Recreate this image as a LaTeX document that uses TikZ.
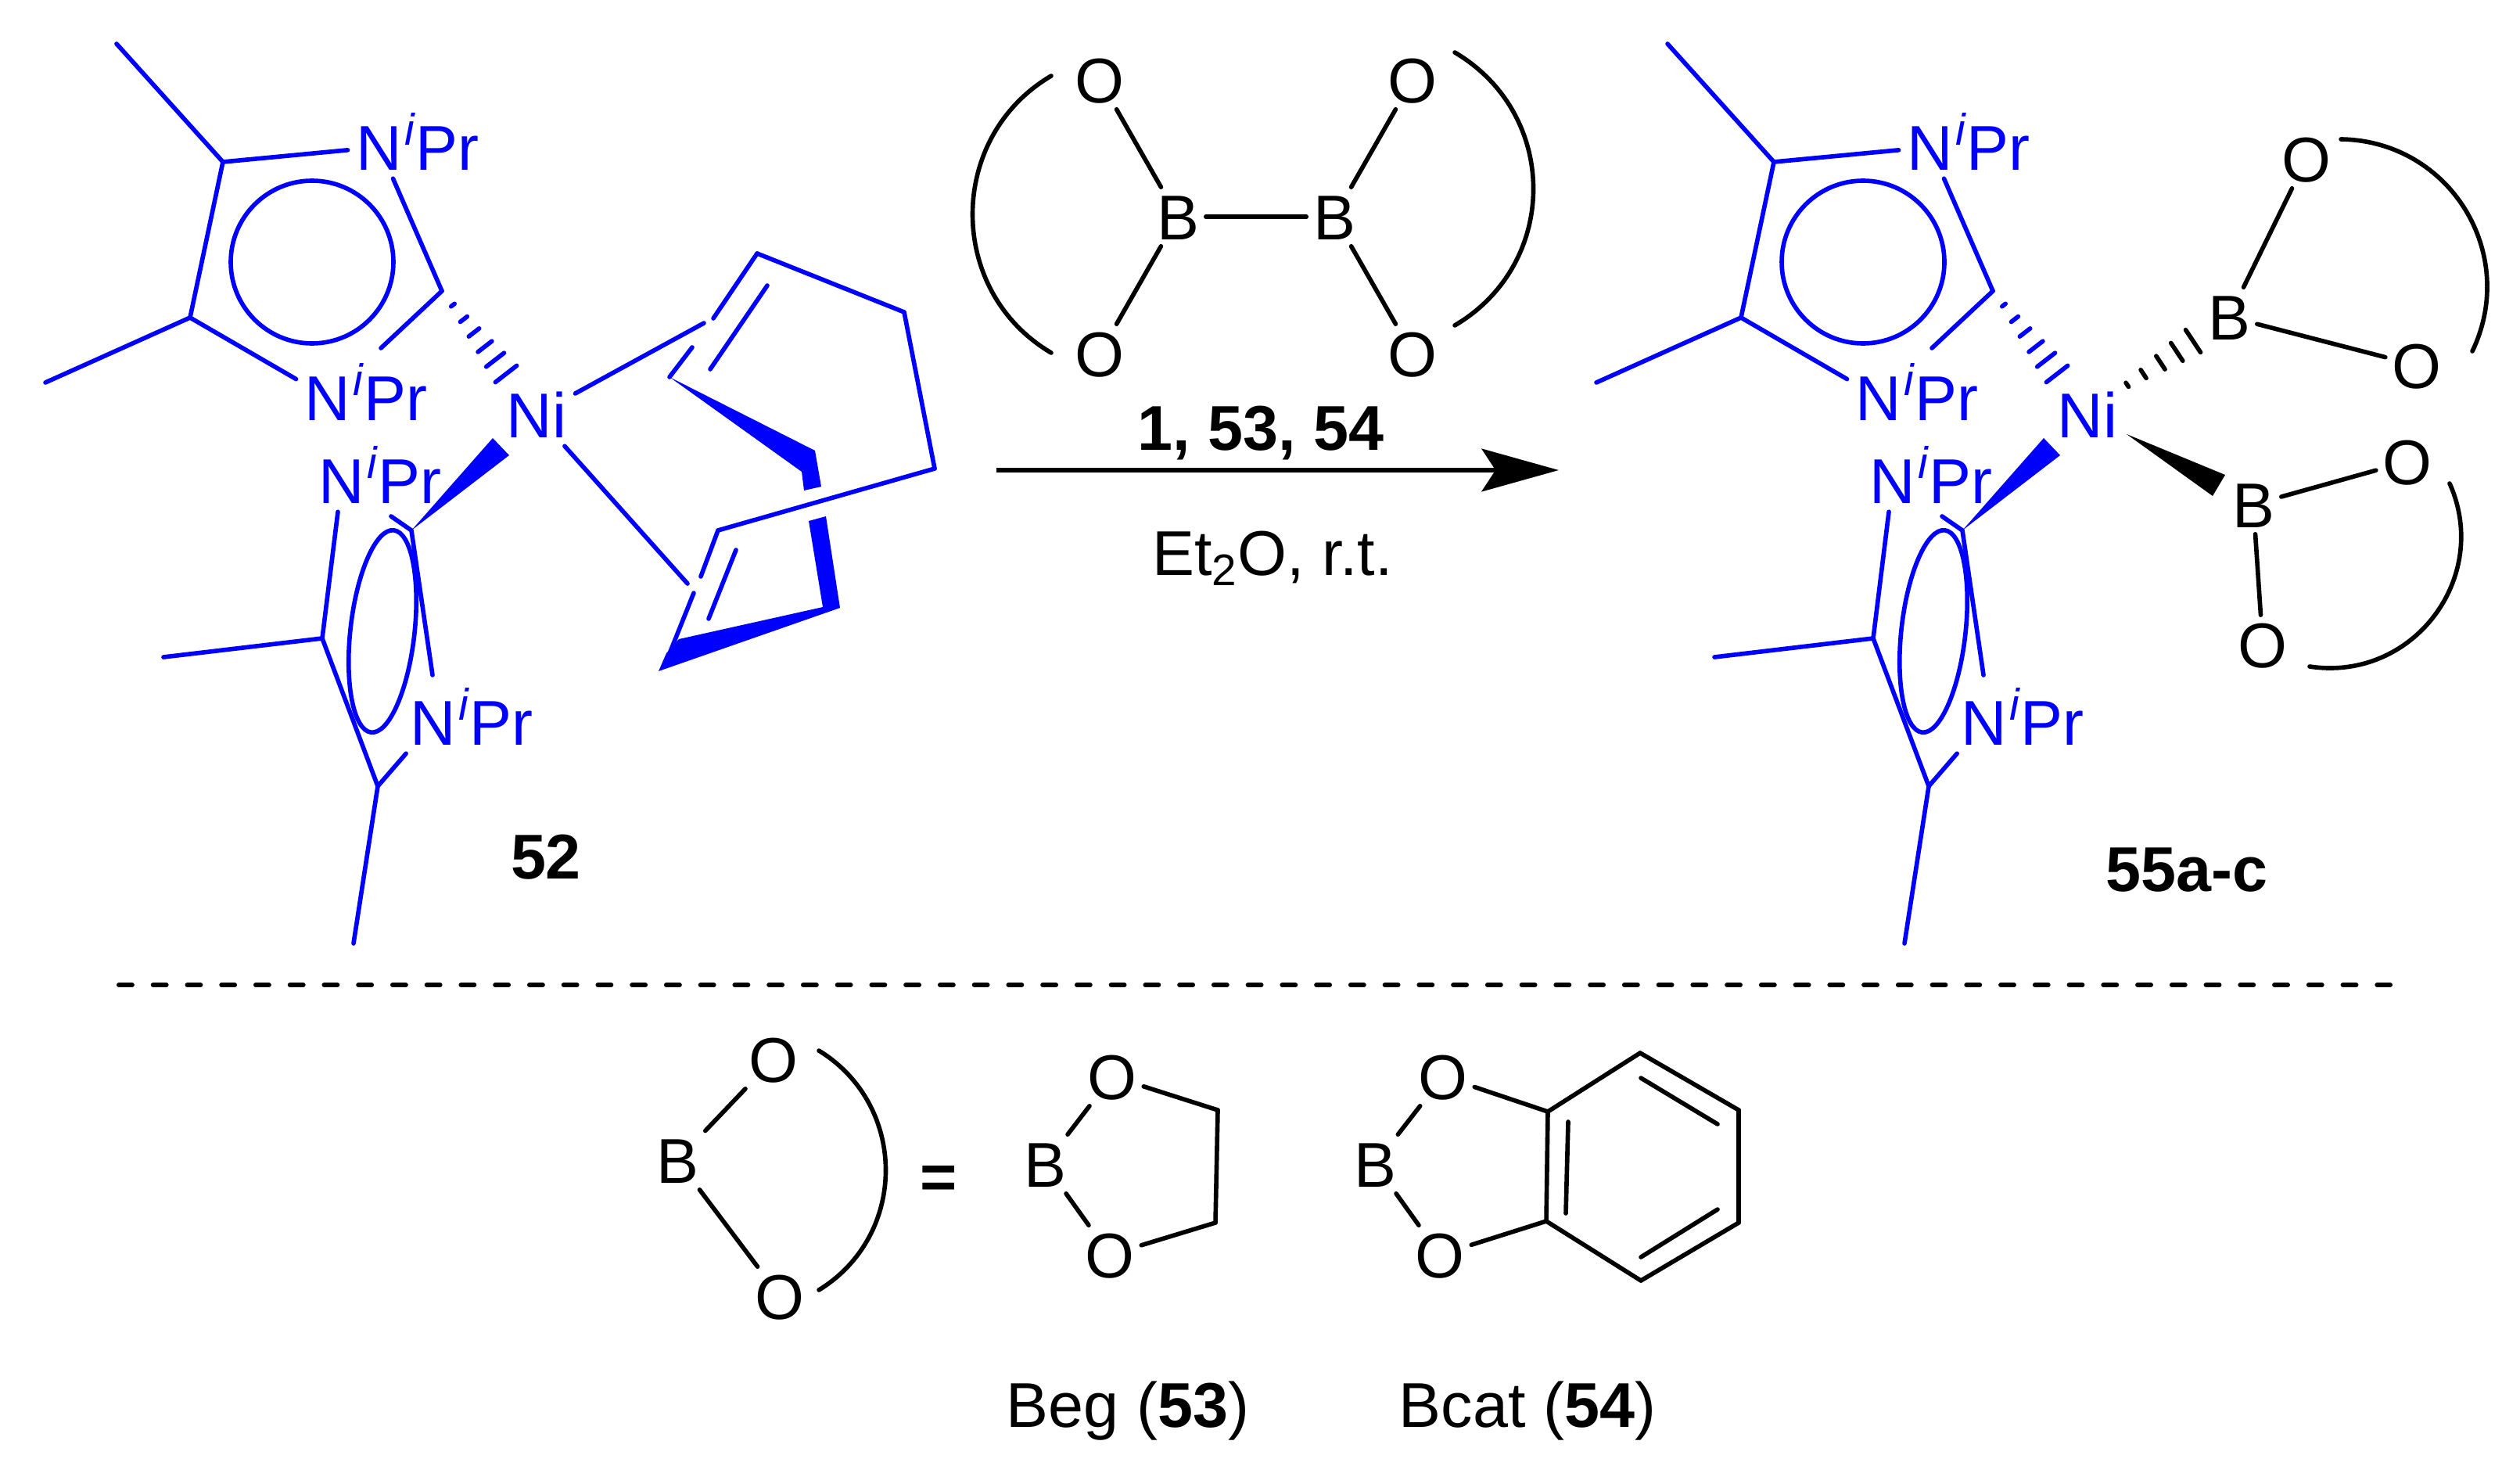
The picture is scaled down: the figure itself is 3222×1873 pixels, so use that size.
\documentclass[tikz,border=0pt]{standalone}
\usepackage{fontspec}
\setmainfont{Liberation Sans}
\usepackage{tkz-euclide}
\usetikzlibrary{arrows.meta,calc,positioning}
\definecolor{ligand}{RGB}{0,0,255}
\tikzset{
  bond/.style={line width=1.6pt,line cap=round,line join=round},
  atom/.style={inner sep=2.3pt,text height=16.5pt,text depth=0pt},
  ligatom/.style={atom,inner sep=3pt,text=ligand},
  ligtail/.style={atom,inner sep=0pt,text=ligand,right=-2.5pt of #1},
  wedge/.style={fill=ligand,draw=none}
}
% bonds stop at the border of an atom label
\newcommand{\bonds}[1]{\foreach \a/\b in {#1}{\draw[bond] (\a) -- (\b);}}
% hashed bond: start, end, list of position/half width
\newcommand{\hashbond}[3]{%
  \foreach \t/\w in {#3}{
    \coordinate (hs) at ($(#1)!\t!(#2)$);
    \draw[bond] ($(hs)!\w pt!90:(#1)$) -- ($(hs)!\w pt!-90:(#1)$);
  }}
\begin{document}
\begin{tikzpicture}[x=0.01cm,y=-0.01cm,font=\fontsize{23}{27}\selectfont]
    \useasboundingbox (0,0) rectangle (3222,1873);
    % the two carbenes on nickel, left and right of the arrow
    \foreach \dx in {0,1983}{
    \begin{scope}[shift={(\dx,0)},ligand]
    \tkzDefPoints{149/56/Mea,285/207/Ca,565/372/Cb,243/406/Cc,58/489/Meb,
      526/678/Cd,412/816/Ce,483/1005/Cf,209/840/Mec,452/1206/Med,
      487/445/Nbe,500/660/Nce,553/863/Nde,
      647/478/Hend,630/560/Wa,651/582/Wb}
    \node[ligatom] (Ni\dx) at (686,530) {Ni};
    \node[ligatom] (Na) at (485,188) {N};
    \node[ligtail=Na] (Nat) {\textsuperscript{\itshape i}Pr};
    \node[ligatom] (Nb) at (419,508) {N};
    \node[ligtail=Nb] (Nbt) {\textsuperscript{\itshape i}Pr};
    \node[ligatom] (Nc) at (437,614) {N};
    \node[ligtail=Nc] (Nct) {\textsuperscript{\itshape i}Pr};
    \node[ligatom] (Nd) at (554,923) {N};
    \node[ligtail=Nd] (Ndt) {\textsuperscript{\itshape i}Pr};
    \bonds{Mea/Ca,Ca/Na,Na/Cb,Cb/Nbe,Nb/Cc,Cc/Ca,Cc/Meb}
    \bonds{Nce/Cd,Cd/Nde,Nd/Cf,Cf/Ce,Ce/Nc,Ce/Mec,Cf/Med}
    \draw[bond] (399,335) circle (104);
    \draw[bond,rotate around={-6.4:(489,807)}] (489,807) ellipse (41 and 130);
    \hashbond{Cb}{Hend}{.17/.8,.34/1.6,.5/2.4,.67/3.2,.83/4.1,1/4.9}
    \fill[wedge] (Cd) -- (Wa) -- (Wb) -- cycle;
    \end{scope}
    }
    % cyclooctadiene
    \tkzDefPoints{968/324/Da,1156/399/Db,1195/599/Dc,918/678/Dd,900/413/Mup,
      879/746/Mlo,912/407/Gup,885/444/Gdn,896/737/Lup,887/758/Ldn,857/833/De,
      856/482/Dh,981/365/Ia,908/472/Ib,941/703/Ic,906/791/Id}
    \begin{scope}[ligand]
    \bonds{Ni0/Mup,Ni0/Mlo,Gup/Da,Da/Db,Db/Dc,Dc/Dd,Dd/Lup,Ldn/De,Gdn/Dh,Ia/Ib,Ic/Id}
    \fill[wedge] (Dh) -- (1042,576) -- (1050,622) -- (1028,627) -- (1025,603) -- cycle;
    \fill[wedge] (1034,666) -- (1056,660) -- (1074,777) -- (842,858) -- (852,835) -- (868,817) -- (1052,776) -- cycle;
    \end{scope}
    % diboron reagent
    \node[atom] (Bl) at (1506,277) {B};
    \node[atom] (Br) at (1706,277) {B};
    \node[atom] (Ola) at (1406,102) {O};
    \node[atom] (Olb) at (1406,452) {O};
    \node[atom] (Ora) at (1806,102) {O};
    \node[atom] (Orb) at (1806,452) {O};
    \bonds{Bl/Br,Bl/Ola,Bl/Olb,Br/Ora,Br/Orb}
    \draw[bond] (1344,97) .. controls (1210,176) and (1210,372) .. (1344,451);
    \draw[bond] (1860,67) .. controls (1994,146) and (1994,337) .. (1860,416);
    % reaction arrow
    \coordinate (Sa) at (1274,601);
    \coordinate (Sb) at (1993,601);
    \draw[line width=1.9pt,-{Stealth[length=28pt,width=15.5pt,inset=5pt]}] (Sa) -- (Sb);
    \node[atom] (rgt) at (1612,546) {\textbf{1, 53, 54}};
    \node[atom] (cond) at (1627,706) {Et\textsubscript{2}O, r.t.};
    \node[atom] (lba) at (698,1094) {\textbf{52}};
    \node[atom] (lbb) at (2796,1110) {\textbf{55a-c}};
    % boryl groups of the product
    \node[atom] (Bp) at (2850,405) {B};
    \node[atom] (Opa) at (2949,203) {O};
    \node[atom] (Opb) at (3090,467) {O};
    \node[atom] (Bq) at (2881,645) {B};
    \node[atom] (Oqa) at (3078,590) {O};
    \node[atom] (Oqb) at (2893,824) {O};
    \bonds{Bp/Opa,Bp/Opb,Bq/Oqa,Bq/Oqb}
    \draw[bond] (2993,178) .. controls (3132,180) and (3221,324) .. (3161,449);
    \draw[bond] (3132,618) .. controls (3186,739) and (3084,872) .. (2953,852);
    \coordinate (Hs) at (2700,505);
    \coordinate (He) at (2804,436);
    \hashbond{Hs}{He}{.19/.9,.39/1.8,.6/2.9,.8/3.9,1/4.9}
    \fill (2719,555) -- (2845,607) -- (2829,634) -- cycle;
    % separator
    \coordinate (Ra) at (152,1259);
    \coordinate (Rb) at (3056,1259);
    \draw[line width=1.7pt,line cap=round,dash pattern=on 4.8pt off 7.64pt] (Ra) -- (Rb);
    % legend
    \node[atom] (Bk) at (866,1483) {B};
    \node[atom] (Oka) at (989,1354) {O};
    \node[atom] (Okb) at (997,1657) {O};
    \bonds{Bk/Oka,Bk/Okb}
    \draw[bond] (1047,1343) .. controls (1161,1413) and (1161,1579) .. (1047,1649);
    \node[atom] (eq) at (1200,1503) {\textbf{=}};
    \node[atom] (Be) at (1336,1488) {B};
    \node[atom] (Oea) at (1422,1376) {O};
    \node[atom] (Oeb) at (1419,1604) {O};
    \tkzDefPoints{1557/1419/Ea,1554/1563/Eb}
    \bonds{Be/Oea,Be/Oeb,Oea/Ea,Ea/Eb,Eb/Oeb}
    \node[atom] (Bc) at (1758,1488) {B};
    \node[atom] (Oca) at (1845,1376) {O};
    \node[atom] (Ocb) at (1841,1604) {O};
    \tkzDefPoints{1979/1421/Ka,1977/1561/Kb,2097/1346/Kc,2223/1419/Kd,2223/1563/Ke,2098/1637/Kf,
      2005/1434/Ja,2002/1551/Jb,2098/1378/Jc,2196/1437/Jd,2196/1546/Je,2098/1607/Jf}
    \bonds{Bc/Oca,Bc/Ocb,Oca/Ka,Ocb/Kb,Ka/Kb,Ka/Kc,Kc/Kd,Kd/Ke,Ke/Kf,Kf/Kb,Ja/Jb,Jc/Jd,Je/Jf}
    \node[atom] (nmb) at (1442,1795) {Beg (\textbf{53})};
    \node[atom] (nmc) at (1953,1795) {Bcat (\textbf{54})};
\end{tikzpicture}
\end{document}
